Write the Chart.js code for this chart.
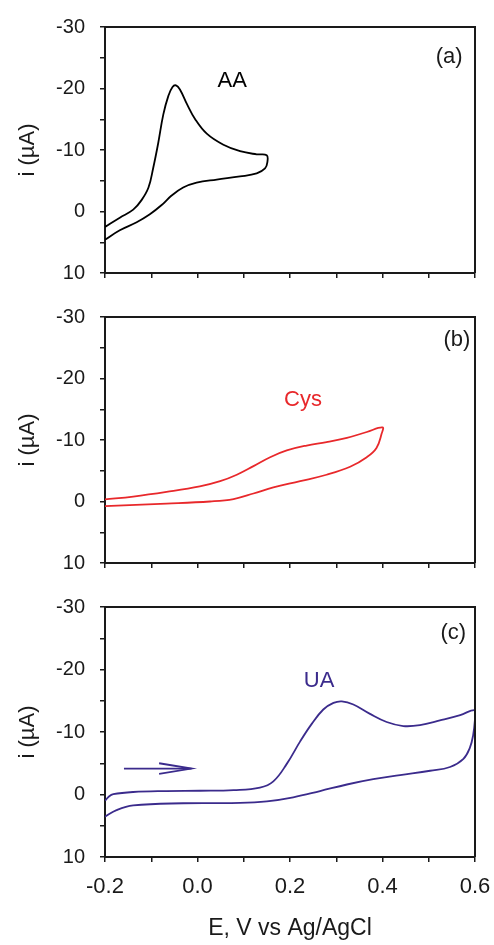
<!DOCTYPE html>
<html>
<head>
<meta charset="utf-8">
<script src="https://cdn.jsdelivr.net/npm/chart.js@4"></script>
<style>
  body { margin: 0; background: #fff; }
  #wrap { position: relative; width: 494px; height: 945px; }
  canvas { position: absolute; left: 0; }
</style>
</head>
<body>
<div id="wrap">
  <canvas id="chartA" width="494" height="300" style="top:0px"></canvas>
  <canvas id="chartB" width="494" height="300" style="top:290px"></canvas>
  <canvas id="chartC" width="494" height="365" style="top:580px"></canvas>
</div>
<script>
// (a) ascorbic acid, potential (V) and current (uA)
var aaE = [-0.2, -0.168, -0.139, -0.121, -0.106, -0.096, -0.085, -0.074, -0.063, -0.054, -0.0465, -0.038, -0.023, -0.005, 0.02, 0.056, 0.092, 0.128, 0.1496, 0.151, 0.146, 0.128, 0.092, 0.0415, -0.002, -0.031, -0.056, -0.0775, -0.103, -0.1315, -0.168, -0.2];
var aaI = [2.5, 1.0, -0.3, -1.85, -3.9, -7.0, -11.1, -15.75, -18.8, -20.25, -20.5, -19.85, -17.5, -15.0, -12.65, -10.85, -9.8, -9.3, -9.15, -8.0, -7.0, -6.2, -5.7, -5.2, -4.7, -3.9, -2.6, -1.05, 0.45, 1.75, 3.05, 4.6];

// (b) cysteine
var cysE = [-0.2, -0.139, -0.067, 0.005, 0.049, 0.085, 0.121, 0.157, 0.193, 0.236, 0.279, 0.323, 0.366, 0.4, 0.398, 0.387, 0.366, 0.33, 0.279, 0.222, 0.164, 0.121, 0.078, 0.027, -0.067, -0.2];
var cysI = [-0.35, -0.8, -1.55, -2.45, -3.3, -4.35, -5.75, -7.2, -8.3, -9.1, -9.65, -10.35, -11.3, -12.05, -11.0, -8.7, -7.2, -5.65, -4.35, -3.3, -2.3, -1.3, -0.4, 0.0, 0.35, 0.75];

// (c) uric acid
var uaE = [-0.2, -0.192, -0.182, -0.139, -0.067, 0.005, 0.078, 0.135, 0.164, 0.193, 0.222, 0.247, 0.272, 0.294, 0.312, 0.337, 0.373, 0.409, 0.445, 0.481, 0.524, 0.568, 0.6, 0.6, 0.596, 0.589, 0.575, 0.546, 0.503, 0.438, 0.38, 0.323, 0.265, 0.207, 0.15, 0.092, -0.031, -0.139, -0.175, -0.2];
var uaI = [1.0, 0.35, -0.05, -0.4, -0.55, -0.6, -0.7, -1.1, -2.1, -4.9, -8.5, -11.3, -13.6, -14.65, -14.9, -14.4, -12.9, -11.6, -10.95, -11.1, -11.85, -12.7, -13.5, -12.1, -9.5, -7.5, -5.7, -4.4, -3.8, -3.1, -2.45, -1.6, -0.55, 0.45, 1.1, 1.35, 1.4, 1.75, 2.5, 3.55];

// scan direction arrow in (c)
var arrowShaftE = [-0.159, -0.013];
var arrowShaftI = [-4.15, -4.15];
var arrowHeadE = [-0.083, -0.013, -0.083];
var arrowHeadI = [-5.0, -4.15, -3.3];

// tick labels
var yTickLabels = [-30, -20, -10, 0, 10];
var xTickLabels = [-0.2, 0.0, 0.2, 0.4, 0.6];

// text notes, [text, E, i]
var notesA = [['AA', 0.075, -21.2], ['(a)', 0.544, -25.2]];
var notesB = [['Cys', 0.228, -16.5], ['(b)', 0.561, -26.2]];
var notesC = [['UA', 0.263, -18.15], ['(c)', 0.553, -25.8]];

var FONT = '"Liberation Sans", Arial, sans-serif';
var INK = '#1a1a1a';

function pts(xs, ys) {
  var out = [];
  for (let i = 0; i < xs.length; i++) out.push({x: xs[i], y: ys[i]});
  return out;
}

function curve(xs, ys, color, tension) {
  return {
    data: pts(xs, ys),
    showLine: true,
    borderColor: color,
    borderWidth: 1.8,
    pointRadius: 0,
    tension: tension,
    fill: false
  };
}

var framePlugin = {
  id: 'frame',
  afterDraw(chart) {
    const a = chart.chartArea, c = chart.ctx;
    c.save();
    c.strokeStyle = INK;
    c.lineWidth = 2;
    c.beginPath();
    c.moveTo(a.left, a.top);
    c.lineTo(a.right, a.top);
    c.lineTo(a.right, a.bottom);
    c.stroke();
    c.restore();
  }
};

var notesPlugin = {
  id: 'notes',
  afterDatasetsDraw(chart, args, opts) {
    const c = chart.ctx, xs = chart.scales.x, ys = chart.scales.y;
    c.save();
    c.font = '22px ' + FONT;
    c.textAlign = 'center';
    c.textBaseline = 'middle';
    opts.items.forEach(function (n, i) {
      c.fillStyle = i === 0 ? opts.color : INK;
      c.fillText(n[0], xs.getPixelForValue(n[1]), ys.getPixelForValue(n[2]));
    });
    c.restore();
  }
};

function makeChart(id, datasets, notes, noteColor, padTop, xHeight, last) {
  return new Chart(document.getElementById(id), {
    type: 'scatter',
    data: { datasets: datasets },
    plugins: [framePlugin, notesPlugin],
    options: {
      responsive: false,
      animation: false,
      layout: { padding: { top: padTop, right: 19, left: 0, bottom: 0 } },
      plugins: {
        legend: { display: false },
        tooltip: { enabled: false },
        notes: { items: notes, color: noteColor }
      },
      scales: {
        x: {
          type: 'linear', min: -0.2, max: 0.6,
          afterFit: function (s) { s.height = xHeight; s.paddingLeft = 0; s.paddingRight = 0; },
          ticks: {
            stepSize: 0.1, autoSkip: false, maxRotation: 0, padding: 12,
            color: INK, font: { family: FONT, size: 22 },
            callback: function (v) {
              if (!last) return '';
              var r = Math.round(v * 10) / 10;
              return xTickLabels.indexOf(r) >= 0 ? r.toFixed(1) : '';
            }
          },
          grid: { drawOnChartArea: false, tickLength: 5, color: INK, lineWidth: 1.5 },
          border: { display: true, color: INK, width: 2 },
          title: {
            display: last, text: 'E, V vs Ag/AgCl', color: INK,
            font: { family: FONT, size: 23 }, padding: { top: 0, bottom: 3 }
          }
        },
        y: {
          type: 'linear', min: -30, max: 10, reverse: true,
          afterFit: function (s) { s.width = 105; },
          ticks: {
            stepSize: 5, autoSkip: false, padding: 15,
            color: INK, font: { family: FONT, size: 20 },
            callback: function (v) { return yTickLabels.indexOf(v) >= 0 ? String(v) : ''; }
          },
          grid: { drawOnChartArea: false, tickLength: 5, color: INK, lineWidth: 1.5 },
          border: { display: true, color: INK, width: 2 },
          title: {
            display: true, text: 'i (\u00b5A)', color: INK,
            font: { family: FONT, size: 22 }, padding: { top: 15, bottom: 0 }
          }
        }
      }
    }
  });
}

var purple = '#3b2b8c';
var red = '#e8282b';

makeChart('chartA', [curve(aaE, aaI, '#000000', 0.4)], notesA, '#000000', 21, 20, false);
makeChart('chartB', [curve(cysE, cysI, red, 0.4)], notesB, red, 15, 25, false);
makeChart('chartC', [
  curve(uaE, uaI, purple, 0.4),
  curve(arrowShaftE, arrowShaftI, purple, 0),
  curve(arrowHeadE, arrowHeadI, purple, 0)
], notesC, purple, 17, 88, true);
</script>
</body>
</html>
